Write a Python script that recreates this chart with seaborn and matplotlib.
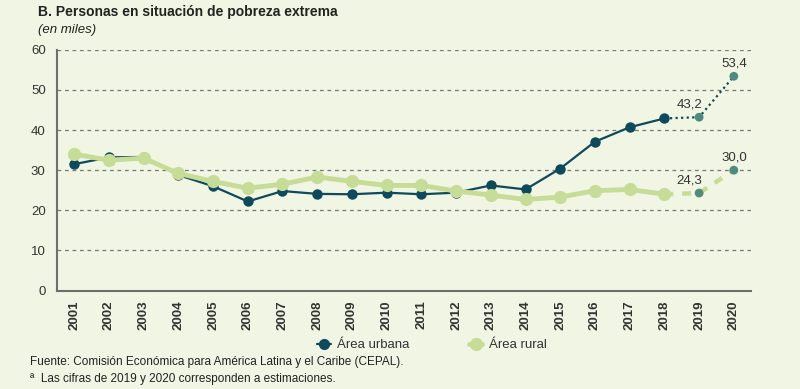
import pandas as pd
import matplotlib.pyplot as plt
import seaborn as sns
from matplotlib.lines import Line2D

# Data (en miles)
years = list(range(2001, 2021))
urbana = [31.5, 33.2, 33.3, 28.8, 26.0, 22.2, 24.8, 24.1, 24.0, 24.4,
          24.0, 24.4, 26.2, 25.2, 30.4, 37.1, 40.7, 42.9, 43.2, 53.4]
rural = [34.0, 32.5, 33.0, 29.2, 27.2, 25.5, 26.5, 28.3, 27.2, 26.2,
         26.2, 24.8, 23.8, 22.7, 23.3, 24.9, 25.2, 24.0, 24.3, 30.0]
labels_urb = ['43,2', '53,4']
labels_rur = ['24,3', '30,0']

bg = '#F1F5E3'
c_urb = '#0E4A5B'
c_rur = '#C6DC97'
c_est = '#4F8B7C'
grey = '#6E6E6E'
txt = '#333333'

sns.set_style('white')
plt.rcParams['font.family'] = ['Liberation Sans', 'DejaVu Sans']

df = pd.DataFrame({'year': years, 'urbana': urbana, 'rural': rural})
obs = df[df['year'] <= 2018]
est = df[df['year'] >= 2018]
pts = df[df['year'] >= 2019]

fig = plt.figure(figsize=(8, 3.89), dpi=100, facecolor=bg)
ax = fig.add_axes([0.071, 0.253, 0.868, 0.619])
ax.set_facecolor(bg)

# estimated segments (2018-2020)
sns.lineplot(data=est, x='year', y='rural', ax=ax, color=c_rur, lw=3.2,
             linestyle=(0, (2, 2)), zorder=2)
sns.lineplot(data=est, x='year', y='urbana', ax=ax, color=c_urb, lw=1.6,
             linestyle=(0, (1, 1.5)), zorder=3)

# observed series
sns.lineplot(data=obs, x='year', y='urbana', ax=ax, color=c_urb, lw=1.6,
             marker='o', markersize=7.5, markeredgewidth=0, zorder=3.5)
sns.lineplot(data=obs, x='year', y='rural', ax=ax, color=c_rur, lw=3.5,
             marker='o', markersize=9.5, markeredgewidth=0, zorder=4)

# estimated points
sns.scatterplot(data=pts, x='year', y='urbana', ax=ax, color=c_est, s=40,
                edgecolor='none', zorder=5)
sns.scatterplot(data=pts, x='year', y='rural', ax=ax, color=c_est, s=40,
                edgecolor='none', zorder=5)

for i, yr in enumerate([2019, 2020]):
    dx = -7 if yr == 2019 else 0
    ax.annotate(labels_urb[i], (yr, urbana[years.index(yr)]),
                xytext=(dx, 5), textcoords='offset points',
                ha='center', va='bottom', fontsize=9.5, color=txt)
    ax.annotate(labels_rur[i], (yr, rural[years.index(yr)]),
                xytext=(dx, 5), textcoords='offset points',
                ha='center', va='bottom', fontsize=9.5, color=txt)

ax.set_xlim(2000.5, 2020.5)
ax.set_ylim(0, 60)
ax.set_yticks(range(0, 61, 10))
ax.set_xticks(years)
ax.set_xticks([y + 0.5 for y in range(2000, 2021)], minor=True)
ax.set_xticklabels([str(y) for y in years], rotation=90, fontsize=9.5,
                   color=txt, fontweight='bold')
ax.tick_params(axis='x', which='major', length=0, pad=7)
ax.tick_params(axis='x', which='minor', length=5, width=1, color=grey,
               direction='out')
ax.tick_params(axis='y', length=6, width=1, color=grey, direction='out',
               labelsize=9.5, labelcolor=txt, pad=2)
ax.set_xlabel('')
ax.set_ylabel('')

for v in range(10, 61, 10):
    ax.axhline(v, color='#777777', lw=0.9, linestyle=(0, (3, 3)), zorder=1)

for s in ['top', 'right']:
    ax.spines[s].set_visible(False)
for s in ['left', 'bottom']:
    ax.spines[s].set_color(grey)
    ax.spines[s].set_linewidth(1.5)

handles = [Line2D([], [], color=c_urb, lw=1.6, marker='o', markersize=7),
           Line2D([], [], color=c_rur, lw=3.5, marker='o', markersize=8.5)]
fig.legend(handles, ['Área urbana', 'Área rural'], ncol=2, frameon=False,
           loc='center', bbox_to_anchor=(0.54, 0.113), fontsize=9.5,
           handlelength=1.0, columnspacing=4.5, handletextpad=0.5,
           labelcolor=txt)

fig.text(0.048, 0.969, 'B. Personas en situación de pobreza extrema',
         fontsize=10, fontweight='bold', color='#222222', va='center')
fig.text(0.048, 0.923, '(en miles)', fontsize=9.5, style='italic',
         color='#222222', va='center')
fig.text(0.037, 0.069, 'Fuente: Comisión Económica para América Latina y el Caribe (CEPAL).',
         fontsize=8.5, color='#222222', va='center')
fig.text(0.037, 0.026, 'ª  Las cifras de 2019 y 2020 corresponden a estimaciones.',
         fontsize=8.5, color='#222222', va='center')

fig.savefig('out.png', dpi=100, facecolor=bg)
